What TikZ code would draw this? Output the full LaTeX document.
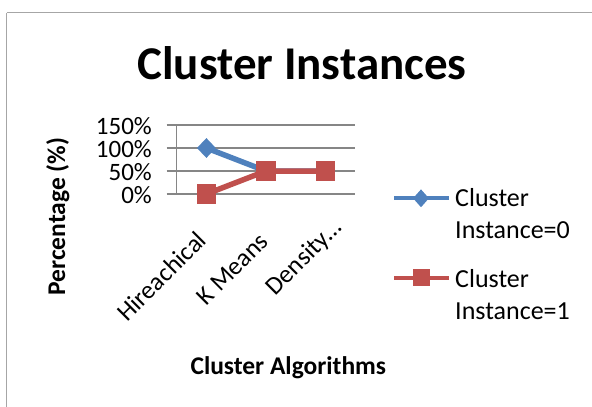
\documentclass[tikz,border=0pt]{standalone}
\usepackage{fontspec}
\setmainfont{Carlito}
\usetikzlibrary{shapes.geometric}
\definecolor{serblue}{HTML}{4F81BD}
\definecolor{serred}{HTML}{C0504D}
\definecolor{gridgray}{HTML}{868686}
\definecolor{framegray}{HTML}{A6A6A6}

\begin{document}
\begin{tikzpicture}[
    x=1pt, y=-1pt,
    ylbl/.style={anchor=base east, inner sep=0pt, font=\fontsize{25}{29}\selectfont},
    catlbl/.style={anchor=base east, inner sep=0pt, rotate=45, font=\fontsize{25.5}{30}\selectfont},
    hline/.style={draw=gridgray, line width=1.3pt},
    ser0/.style={draw=serblue, line width=5.5pt},
    ser1/.style={draw=serred, line width=5.5pt},
    mk0/.style={diamond, fill=serblue, inner sep=0pt, minimum width=19pt, minimum height=20pt},
    mk1/.style={rectangle, fill=serred, inner sep=0pt, minimum size=19.5pt},
    legtxt/.style={anchor=base west, inner sep=0pt, align=left, font=\fontsize{26}{31.6}\selectfont},
    judul/.style={anchor=base, inner sep=0pt, font=\fontsize{25.5}{30}\selectfont\bfseries}
  ]
  \useasboundingbox (0,0) rectangle (592,407);
  \draw[framegray, line width=1.6pt] (6.5,407) -- (6.5,12.7);
  \draw[framegray, line width=1pt] (6.5,12.7) -- (592,12.7);

  \node[judul, font=\fontsize{47}{56}\selectfont\bfseries] (title) at (302,79.3) {Cluster Instances};

  \foreach \v/\yy in {0/194, 50/171, 100/148, 150/125} {
    \draw[hline] (166.7,\yy) -- (355,\yy);
    \node[ylbl] (y\v) at (152,\yy+9) {\v\%};
  }
  \draw[hline] (176.7,125) -- (176.7,194);

  \node[catlbl] (c1) at (208,242) {Hireachical};
  \node[catlbl] (c2) at (270,243) {K Means};
  \node[catlbl] (c3) at (343,229) {Density…};

  \coordinate (b1) at (206.4,148);
  \coordinate (b2) at (265.9,171);
  \coordinate (b3) at (325.3,171);
  \coordinate (r1) at (206.4,194);
  \coordinate (r2) at (265.9,171);
  \coordinate (r3) at (325.3,171);
  \draw[ser0] (b1) -- (b2) -- (b3);
  \foreach \p in {b1,b2,b3}
    \node[mk0] (\p m) at (\p) {};
  \draw[ser1] (r1) -- (r2) -- (r3);
  \foreach \p in {r1,r2,r3}
    \node[mk1] (\p m) at (\p) {};

  \node[judul, rotate=90] (ytitle) at (65,216.7) {Percentage (\%)};
  \node[judul] (xtitle) at (288.3,374) {Cluster Algorithms};

  \coordinate (l0a) at (394,198.3);
  \coordinate (l0b) at (449,198.3);
  \coordinate (l1a) at (394,277.5);
  \coordinate (l1b) at (449,277.5);
  \draw[ser0, line width=4pt] (l0a) -- (l0b);
  \node[mk0, minimum width=16pt, minimum height=18pt] (l0m) at (421,198.3) {};
  \draw[ser1, line width=4pt] (l1a) -- (l1b);
  \node[mk1, minimum size=17pt] (l1m) at (421.3,277.5) {};
  \node[legtxt] (l0t) at (455,238.3) {Cluster\\Instance=0};
  \node[legtxt] (l1t) at (455,319.3) {Cluster\\Instance=1};
\end{tikzpicture}
\end{document}
